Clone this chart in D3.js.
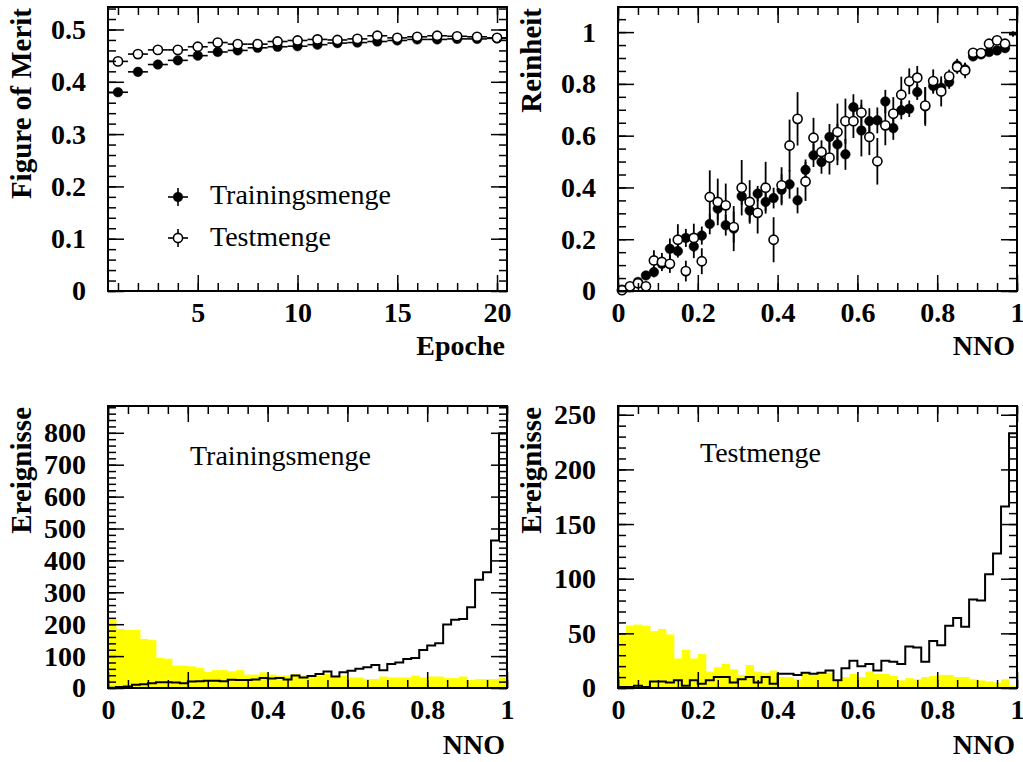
<!DOCTYPE html>
<html><head><meta charset="utf-8">
<script src="https://cdn.jsdelivr.net/npm/d3@7"></script>
<style>body{margin:0;background:#fff}svg{display:block}</style>
</head><body>
<svg id="c" width="1023" height="762"></svg>
<script>
// ---------- DATA ----------
const epochs = d3.range(1, 21);
const fomTrain = [0.380,0.419,0.433,0.441,0.450,0.457,0.460,0.465,0.467,0.468,0.471,0.474,0.475,0.477,0.479,0.481,0.481,0.482,0.482,0.483];
const fomTest  = [0.439,0.453,0.461,0.461,0.467,0.475,0.472,0.472,0.477,0.479,0.481,0.480,0.482,0.488,0.484,0.486,0.488,0.487,0.486,0.484];

const nnoBins = d3.range(50).map(k => 0.01 + 0.02 * k);
const purityTrain = [0.005,0.015,0.035,0.06,0.073,0.105,0.163,0.154,0.205,0.172,0.214,0.259,0.318,0.254,0.241,0.366,0.311,0.376,0.344,0.359,0.391,0.412,0.350,0.468,0.524,0.498,0.595,0.566,0.528,0.710,0.620,0.656,0.659,0.732,0.629,0.698,0.704,0.768,0.713,0.792,0.785,0.807,0.871,0.856,0.906,0.914,0.923,0.929,0.938,0.990];
const purityTrainErr = [0.005,0.008,0.012,0.015,0.02,0.022,0.04,0.025,0.035,0.045,0.035,0.04,0.045,0.04,0.087,0.035,0.045,0.03,0.035,0.04,0.06,0.055,0.05,0.04,0.045,0.045,0.05,0.08,0.06,0.05,0.1,0.05,0.05,0.045,0.045,0.035,0.032,0.03,0.075,0.03,0.032,0.026,0.026,0.025,0.015,0.012,0.012,0.012,0.012,0.008];
const purityTest = [0.003,0.018,0.03,0.018,0.118,0.112,0.105,0.198,0.077,0.205,0.115,0.363,0.344,0.331,0.247,0.399,0.344,0.302,0.399,0.198,0.408,0.562,0.665,0.423,0.592,0.537,0.515,0.614,0.656,0.656,0.689,0.595,0.501,0.640,0.685,0.758,0.810,0.824,0.716,0.811,0.771,0.829,0.865,0.852,0.920,0.919,0.955,0.968,0.955,0.995];
const purityTestErr = [0.005,0.012,0.015,0.015,0.039,0.035,0.035,0.06,0.04,0.055,0.05,0.103,0.09,0.084,0.06,0.107,0.084,0.08,0.1,0.087,0.07,0.1,0.103,0.075,0.077,0.045,0.065,0.11,0.087,0.065,0.05,0.07,0.09,0.077,0.064,0.07,0.05,0.045,0.07,0.045,0.058,0.026,0.026,0.03,0.015,0.012,0.012,0.012,0.012,0.008];
const noMarkerBins = [49];

const histTrainSig = [1,3,5,10,12,15,18,18,17,15,20,21,23,23,21,26,25,25,27,31,30,31,27,39,33,38,44,52,36,49,54,60,65,72,56,75,80,91,94,119,133,140,199,214,216,253,339,363,462,798];
const histTrainBkg = [216,185,182,182,154,150,94,92,70,70,68,63,50,56,56,52,56,42,42,49,42,39,39,44,39,39,39,44,39,39,33,33,28,28,36,33,33,33,39,33,36,36,31,31,36,25,28,28,28,33];
const histTestSig  = [1,1,2,1,6,6,5,7,2,7,4,7,10,10,5,8,10,5,10,4,13,13,12,14,13,14,16,7,18,25,20,22,16,25,24,22,38,37,24,43,39,57,64,56,81,80,104,123,166,233];
const histTestBkg  = [49,57,58,57,52,54,49,27,35,27,31,15,19,22,17,12,21,15,14,16,10,10,8,14,12,13,14,6,10,13,10,15,13,13,11,7,9,8,10,11,12,12,10,10,8,7,6,5,8,2];
const binEdges = d3.range(51).map(k => k * 0.02);

const legendLabels = ["Trainingsmenge", "Testmenge"];
const panelLabels = ["Trainingsmenge", "Testmenge"];

// ---------- DRAW ----------
const svg = d3.select("#c");
svg.append("rect").attr("width",1023).attr("height",762).attr("fill","#fff");
const FONT = "'Liberation Serif','Times New Roman',serif";

const P = {
  tl: {x0:108, x1:507, y0:7,   y1:291},
  tr: {x0:618, x1:1017, y0:7,  y1:291},
  bl: {x0:108, x1:507, y0:406, y1:688},
  br: {x0:618, x1:1017, y0:406, y1:688}
};
const fmtNum = d => String(+d.toFixed(2));
const rng = (a, b, s) => d3.range(Math.round((b - a) / s) + 1).map(i => +(a + i * s).toFixed(4));

function styleAxis(g, labels) {
  g.select(".domain").remove();
  g.selectAll(".tick line").attr("stroke","#000").attr("stroke-width",1.5);
  if (labels) g.attr("font-family",FONT).attr("font-size",28).attr("font-weight","bold")
              .selectAll("text").attr("fill","#000");
  else g.selectAll("text").remove();
}

function frame(p, xs, ys, xMaj, xMin, yMaj, yMin) {
  const g = svg.append("g");
  const add = (axis, tr, labels) => g.append("g").attr("transform",tr).call(axis).call(s => styleAxis(s, labels));
  add(d3.axisBottom(xs).tickValues(xMin).tickSize(-8).tickFormat(""), `translate(0,${p.y1})`, false);
  add(d3.axisBottom(xs).tickValues(xMaj).tickSize(-16).tickPadding(11).tickFormat(fmtNum), `translate(0,${p.y1})`, true);
  add(d3.axisTop(xs).tickValues(xMin).tickSize(-8).tickFormat(""), `translate(0,${p.y0})`, false);
  add(d3.axisTop(xs).tickValues(xMaj).tickSize(-16).tickFormat(""), `translate(0,${p.y0})`, false);
  add(d3.axisLeft(ys).tickValues(yMin).tickSize(-8).tickFormat(""), `translate(${p.x0},0)`, false);
  add(d3.axisLeft(ys).tickValues(yMaj).tickSize(-16).tickPadding(22).tickFormat(fmtNum), `translate(${p.x0},0)`, true);
  add(d3.axisRight(ys).tickValues(yMin).tickSize(-8).tickFormat(""), `translate(${p.x1},0)`, false);
  add(d3.axisRight(ys).tickValues(yMaj).tickSize(-16).tickFormat(""), `translate(${p.x1},0)`, false);
  g.append("rect").attr("x",p.x0).attr("y",p.y0).attr("width",p.x1-p.x0).attr("height",p.y1-p.y0)
    .attr("fill","none").attr("stroke","#000").attr("stroke-width",2);
}

function xTitle(p, text, y) {
  svg.append("text").attr("x",p.x1-2).attr("y",y).attr("text-anchor","end")
    .attr("font-family",FONT).attr("font-size",28).attr("font-weight","bold").text(text);
}
function yTitle(p, text) {
  svg.append("text").attr("transform",`translate(${p.x0-77},${p.y0+1}) rotate(-90)`).attr("text-anchor","end")
    .attr("font-family",FONT).attr("font-size",29).attr("font-weight","bold").text(text);
}

function marker(g, cx, cy, open) {
  g.append("circle").attr("cx",cx).attr("cy",cy).attr("r",open?4.6:4.8)
    .attr("fill",open?"#fff":"#000").attr("stroke","#000").attr("stroke-width",open?1.6:0.5);
}

// ---- Top-left: Figure of Merit vs Epoche ----
{
  const p = P.tl;
  const xs = d3.scaleLinear().domain([0.5,20.5]).range([p.x0,p.x1]);
  const ys = d3.scaleLinear().domain([0,0.543]).range([p.y1,p.y0]);
  const g = svg.append("g");
  [[fomTrain,false],[fomTest,true]].forEach(([vals,open]) => {
    vals.forEach((v,i) => {
      g.append("line").attr("x1",xs(epochs[i]-0.5)).attr("x2",xs(epochs[i]+0.5))
        .attr("y1",ys(v)).attr("y2",ys(v)).attr("stroke","#000").attr("stroke-width",1.6);
    });
    vals.forEach((v,i) => marker(g, xs(epochs[i]), ys(v), open));
  });
  // legend
  legendLabels.forEach((t,i) => {
    const ly = [197,238][i], lx = 178;
    g.append("line").attr("x1",lx-10).attr("x2",lx+10).attr("y1",ly).attr("y2",ly).attr("stroke","#000").attr("stroke-width",1.6);
    g.append("line").attr("x1",lx).attr("x2",lx).attr("y1",ly-9).attr("y2",ly+9).attr("stroke","#000").attr("stroke-width",1.6);
    marker(g, lx, ly, i===1);
    g.append("text").attr("x",210).attr("y",[204,246][i]).attr("font-family",FONT).attr("font-size",28).text(t);
  });
  frame(p, xs, ys, [5,10,15,20], rng(1,20,1), rng(0,0.5,0.1), rng(0,0.54,0.02));
  xTitle(p, "Epoche", 355);
  yTitle(p, "Figure of Merit");
}

// ---- Top-right: Reinheit vs NNO ----
{
  const p = P.tr;
  const xs = d3.scaleLinear().domain([0,1]).range([p.x0,p.x1]);
  const ys = d3.scaleLinear().domain([0,1.097]).range([p.y1,p.y0]);
  const g = svg.append("g");
  [[purityTrain,purityTrainErr,false],[purityTest,purityTestErr,true]].forEach(([vals,errs,open]) => {
    vals.forEach((v,i) => {
      g.append("line").attr("x1",xs(nnoBins[i])).attr("x2",xs(nnoBins[i]))
        .attr("y1",ys(v-errs[i])).attr("y2",ys(v+errs[i])).attr("stroke","#000").attr("stroke-width",1.8);
      g.append("line").attr("x1",xs(nnoBins[i]-0.01)).attr("x2",xs(nnoBins[i]+0.01))
        .attr("y1",ys(v)).attr("y2",ys(v)).attr("stroke","#000").attr("stroke-width",1.5);
    });
    vals.forEach((v,i) => { if (!noMarkerBins.includes(i)) marker(g, xs(nnoBins[i]), ys(v), open); });
  });
  frame(p, xs, ys, rng(0,1,0.2), rng(0,1,0.05), rng(0,1,0.2), rng(0,1.05,0.05));
  xTitle(p, "NNO", 355);
  yTitle(p, "Reinheit");
}

// ---- Bottom histograms ----
function histPanel(p, sig, bkg, ymax, yMaj, yMin, label, lx, ly) {
  const xs = d3.scaleLinear().domain([0,1]).range([p.x0,p.x1]);
  const ys = d3.scaleLinear().domain([0,ymax]).range([p.y1,p.y0]);
  const g = svg.append("g");
  g.selectAll("rect.bkg").data(bkg).join("rect").attr("class","bkg")
    .attr("x",(d,i)=>xs(binEdges[i])).attr("width",(d,i)=>xs(binEdges[i+1])-xs(binEdges[i])+0.5)
    .attr("y",d=>ys(d)).attr("height",d=>ys(0)-ys(d)).attr("fill","#ffff00");
  const pts = [[binEdges[0],0]];
  sig.forEach((v,i) => { pts.push([binEdges[i],v]); pts.push([binEdges[i+1],v]); });
  pts.push([binEdges[50],0]);
  g.append("path").attr("d",d3.line().x(d=>xs(d[0])).y(d=>ys(d[1]))(pts))
    .attr("fill","none").attr("stroke","#000").attr("stroke-width",2);
  g.append("text").attr("x",lx).attr("y",ly).attr("font-family",FONT).attr("font-size",28).text(label);
  frame(p, xs, ys, rng(0,1,0.2), rng(0,1,0.05), yMaj, yMin);
  xTitle(p, "NNO", 754);
  yTitle(p, "Ereignisse");
}
histPanel(P.bl, histTrainSig, histTrainBkg, 884, rng(0,800,100), rng(0,880,20), panelLabels[0], 190, 465);
histPanel(P.br, histTestSig, histTestBkg, 258, rng(0,250,50), rng(0,250,10), panelLabels[1], 700, 462);
</script>
</body></html>
